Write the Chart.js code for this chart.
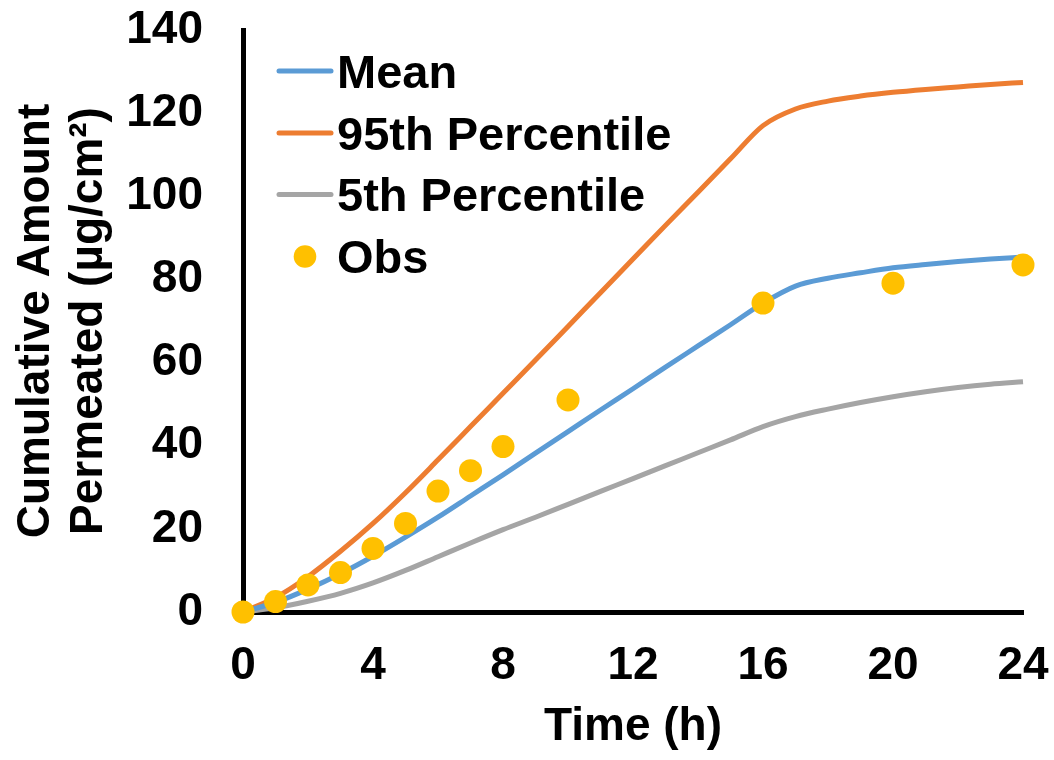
<!DOCTYPE html>
<html>
<head>
<meta charset="utf-8">
<script src="https://cdn.jsdelivr.net/npm/chart.js@4/dist/chart.umd.min.js"></script>
<style>
  html, body { margin: 0; padding: 0; background: #fff; }
  #wrap { width: 1054px; height: 760px; }
</style>
</head>
<body>
<div id="wrap"><canvas id="permChart" width="1054" height="760"></canvas></div>
<script>
// model curves at each hour
var hours = [0,1,2,3,4,5,6,7,8,9,10,11,12,13,14,15,16,17,18,19,20,21,22,23,24];
var meanVals = [0,2.3,5.5,9.2,13.4,18.0,22.8,27.9,33.0,38.2,43.4,48.6,53.7,58.9,64.0,69.1,74.3,78.4,80.3,81.6,82.8,83.6,84.3,84.9,85.4];
var p95Vals = [0,3.5,8.5,14.6,21.3,28.7,36.6,44.6,52.6,60.6,68.7,76.8,84.9,93.0,101.0,109.0,117.0,121.0,122.9,124.1,125.0,125.7,126.3,126.9,127.4];
var p5Vals = [0,1.0,2.6,4.5,7.0,10.0,13.3,16.6,19.8,22.8,25.9,29.0,32.1,35.2,38.3,41.4,44.6,47.0,48.8,50.4,51.8,53.0,54.0,54.8,55.4];

// observed
var obsTimes = [0,1,2,3,4,5,6,7,8,10,16,20,24];
var obsVals = [0,2.5,6.5,9.5,15.3,21.3,29.1,34.0,39.8,51.0,74.3,79.1,83.5];

var xTicks = [0,4,8,12,16,20,24];
var yTicks = [0,20,40,60,80,100,120,140];

function toPts(xs, ys) {
    var out = [];
    for (var i = 0; i < xs.length; i++) out.push({x: xs[i], y: ys[i]});
    return out;
}

var FONT = '"Liberation Sans", Arial, sans-serif';

// legend drawn inside the plot, top left
var sideLegend = {
    id: 'sideLegend',
    afterDraw: function(chart) {
        var ctx = chart.ctx;
        var rows = [71, 133, 194.5, 256.5];
        var sets = chart.data.datasets;
        ctx.save();
        ctx.font = 'bold 47px ' + FONT;
        ctx.textBaseline = 'alphabetic';
        ctx.textAlign = 'left';
        for (var i = 0; i < sets.length; i++) {
            var ds = sets[i];
            var cy = rows[i];
            if (ds.showLine === false) {
                ctx.beginPath();
                ctx.fillStyle = ds.backgroundColor;
                ctx.arc(305, cy, 11.3, 0, Math.PI * 2);
                ctx.fill();
            } else {
                ctx.beginPath();
                ctx.strokeStyle = ds.borderColor;
                ctx.lineWidth = 5;
                ctx.lineCap = 'round';
                ctx.moveTo(279, cy);
                ctx.lineTo(331, cy);
                ctx.stroke();
            }
            ctx.fillStyle = '#000';
            ctx.fillText(ds.label, 337, cy + 16.8);
        }
        ctx.restore();
    }
};

new Chart(document.getElementById('permChart'), {
    type: 'line',
    data: {
        datasets: [
            {
                label: 'Mean',
                data: toPts(hours, meanVals),
                borderColor: '#5B9BD5',
                borderWidth: 5,
                pointRadius: 0,
                cubicInterpolationMode: 'monotone',
                clip: false,
                order: 1
            },
            {
                label: '95th Percentile',
                data: toPts(hours, p95Vals),
                borderColor: '#ED7D31',
                borderWidth: 5,
                pointRadius: 0,
                cubicInterpolationMode: 'monotone',
                clip: false,
                order: 2
            },
            {
                label: '5th Percentile',
                data: toPts(hours, p5Vals),
                borderColor: '#A5A5A5',
                borderWidth: 5,
                pointRadius: 0,
                cubicInterpolationMode: 'monotone',
                clip: false,
                order: 3
            },
            {
                label: 'Obs',
                data: toPts(obsTimes, obsVals),
                showLine: false,
                backgroundColor: '#FFC000',
                borderColor: '#FFC000',
                borderWidth: 0,
                pointRadius: 11.5,
                clip: false,
                order: 0
            }
        ]
    },
    options: {
        responsive: false,
        animation: false,
        devicePixelRatio: 1,
        layout: { padding: 0 },
        plugins: {
            legend: { display: false },
            tooltip: { enabled: false }
        },
        scales: {
            x: {
                type: 'linear',
                min: 0,
                max: 24,
                afterBuildTicks: function(scale) {
                    scale.ticks = xTicks.map(function(v) { return {value: v}; });
                },
                afterFit: function(scale) {
                    scale.height = 148;
                    scale.paddingLeft = 0;
                    scale.paddingRight = 31;
                },
                grid: { display: false, drawTicks: false },
                border: { display: true, color: '#000', width: 5 },
                ticks: {
                    color: '#000',
                    padding: 27,
                    maxRotation: 0,
                    font: { family: FONT, size: 46, weight: 'bold' }
                },
                title: {
                    display: true,
                    text: 'Time (h)',
                    color: '#000',
                    padding: { top: 0, bottom: 5 },
                    font: { family: FONT, size: 46, weight: 'bold' }
                }
            },
            y: {
                type: 'linear',
                min: 0,
                max: 140,
                afterBuildTicks: function(scale) {
                    scale.ticks = yTicks.map(function(v) { return {value: v}; });
                },
                afterFit: function(scale) {
                    scale.width = 243;
                    scale.paddingTop = 30;
                    scale.paddingBottom = 0;
                },
                grid: { display: false, drawTicks: false },
                border: { display: true, color: '#000', width: 5 },
                ticks: {
                    color: '#000',
                    padding: 40,
                    font: { family: FONT, size: 46, weight: 'bold' }
                },
                title: {
                    display: true,
                    text: ['Cumulative Amount', 'Permeated (µg/cm²)'],
                    color: '#000',
                    padding: { top: 10, bottom: 0 },
                    font: { family: FONT, size: 46, weight: 'bold', lineHeight: 1.15 }
                }
            }
        }
    },
    plugins: [sideLegend]
});
</script>
</body>
</html>
